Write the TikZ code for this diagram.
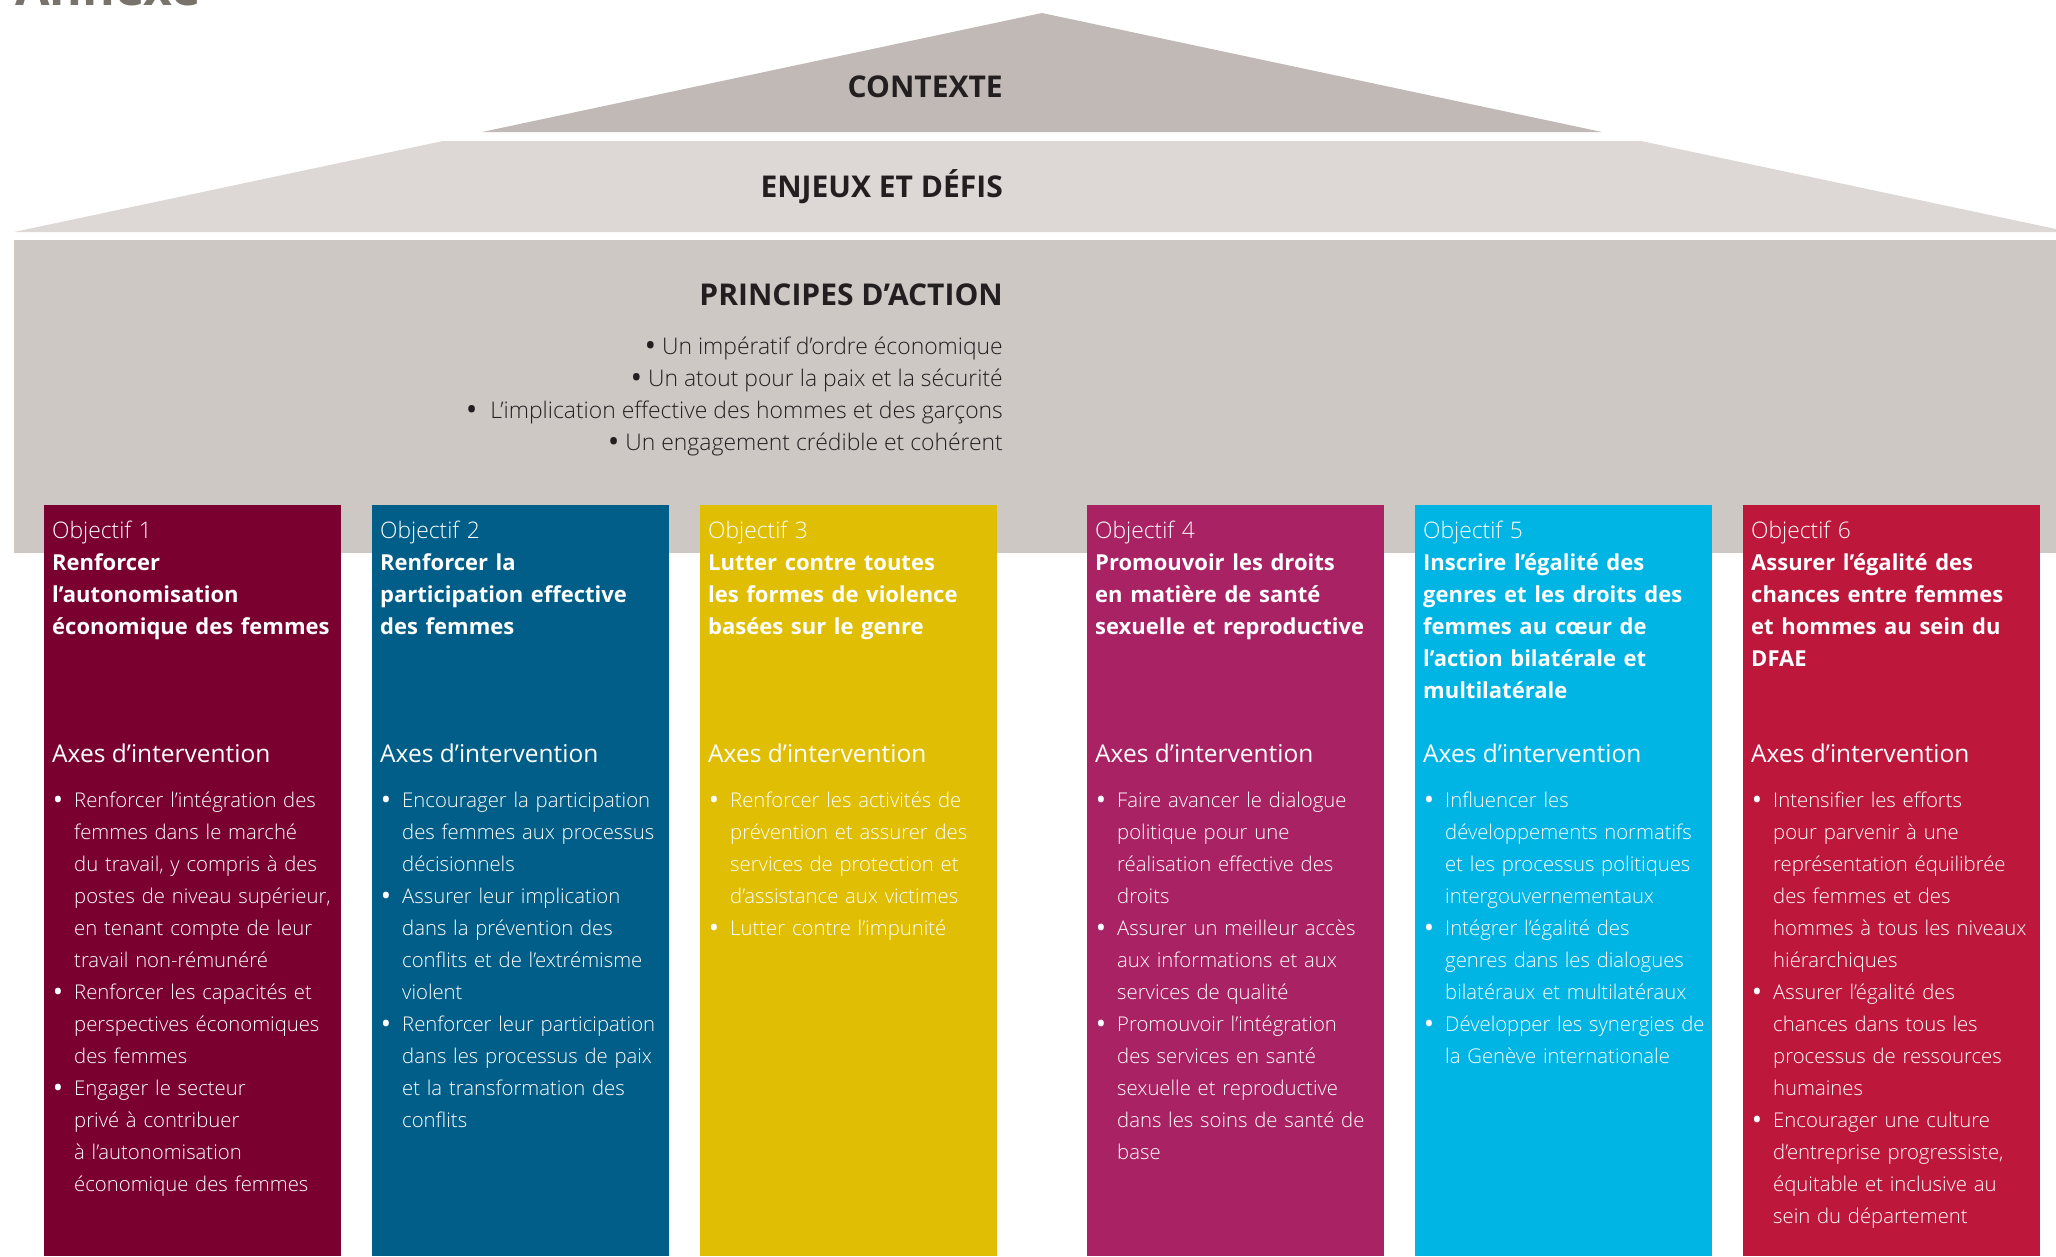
\documentclass[tikz,border=0pt]{standalone}
\usepackage{fontspec}
\setmainfont{Open Sans}
\newfontfamily\lightfont{Open Sans Light}

\definecolor{roofdark}{HTML}{C0B9B5}
\definecolor{rooflight}{HTML}{DDD8D5}
\definecolor{principgrey}{HTML}{CDC8C4}
\definecolor{txtdark}{HTML}{231F20}
\definecolor{annexgrey}{HTML}{77736B}
\definecolor{obj1}{HTML}{7A0030}
\definecolor{obj2}{HTML}{005E88}
\definecolor{obj3}{HTML}{E0BE04}
\definecolor{obj4}{HTML}{A92364}
\definecolor{obj5}{HTML}{00B5E4}
\definecolor{obj6}{HTML}{BD173B}

% round bullet, a bit larger than the font's own
\newcommand{\pt}{\raisebox{-0.11em}{\scalebox{1.35}{\normalfont\textbullet}}}
% bullet hanging in the left margin of a list line
\newcommand{\puce}{\leavevmode\llap{\pt\hspace{11pt}}}
% bold title lines under "Objectif n"
\newcommand{\titre}{\normalfont\bfseries\fontsize{22}{32}\selectfont}

\begin{document}
\begin{tikzpicture}[x=1pt,y=-1pt,
  objbox/.style={anchor=north west,inner sep=0pt,minimum width=297pt,minimum height=751pt},
  objtitle/.style={anchor=base west,inner sep=0pt,text width=300pt,align=left,text=white,font=\lightfont\fontsize{22.8}{32}\selectfont},
  axestitle/.style={anchor=base west,inner sep=0pt,text=white,font=\fontsize{24.5}{30}\selectfont},
  axeslist/.style={anchor=base west,inner sep=0pt,text width=300pt,align=left,text=white,font=\lightfont\fontsize{20.3}{32}\selectfont},
  rooftext/.style={anchor=base east,inner sep=0pt,text=txtdark,font=\bfseries\fontsize{30}{36}\selectfont},
  principe/.style={anchor=base east,inner sep=0pt,text=txtdark,font=\lightfont\fontsize{22.9}{32}\selectfont}]
\useasboundingbox (0,0) rectangle (2056,1256);

\node[anchor=base west,inner sep=0pt,text=annexgrey,font=\bfseries\fontsize{50}{60}\selectfont] (annexe) at (15,5) {Annexe};

% roof and principles band
\fill[roofdark] (482,132) -- (1042,13) -- (1602,132) -- cycle;
\fill[rooflight] (14,232) -- (443,141) -- (1641,141) -- (2070,232) -- cycle;
\fill[principgrey] (14,240) rectangle (2070,553);

\node[rooftext] (contexte) at (1003,97) {CONTEXTE};
\node[rooftext] (enjeux) at (1003,197) {ENJEUX ET DÉFIS};
\node[rooftext] (principes) at (1003,305) {PRINCIPES D’ACTION};
\node[principe] (prc1) at (1003,354) {\pt\ Un impératif d’ordre économique};
\node[principe] (prc2) at (1003,386) {\pt\ Un atout pour la paix et la sécurité};
\node[principe] (prc3) at (1003,418) {\pt\hspace{13pt}L’implication effective des hommes et des garçons};
\node[principe] (prc4) at (1003,450) {\pt\ Un engagement crédible et cohérent};

% objective 1
\node[objbox,fill=obj1] (obj1) at (44,505) {};
\node[objtitle] (obj1_title) at (52,538) {Objectif 1\\\titre Renforcer\\l’autonomisation\\économique des femmes};
\node[axestitle] (obj1_axes) at (52,762) {Axes d’intervention};
\node[axeslist] (obj1_list) at (74,807) {\puce Renforcer l’intégration des\\femmes dans le marché\\du travail, y compris à des\\postes de niveau supérieur,\\en tenant compte de leur\\travail non-rémunéré\\\puce Renforcer les capacités et\\perspectives économiques\\des femmes\\\puce Engager le secteur\\privé à contribuer\\à l’autonomisation\\économique des femmes};

% objective 2
\node[objbox,fill=obj2] (obj2) at (372,505) {};
\node[objtitle] (obj2_title) at (380,538) {Objectif 2\\\titre Renforcer la\\participation effective\\des femmes};
\node[axestitle] (obj2_axes) at (380,762) {Axes d’intervention};
\node[axeslist] (obj2_list) at (402,807) {\puce Encourager la participation\\des femmes aux processus\\décisionnels\\\puce Assurer leur implication\\dans la prévention des\\conflits et de l’extrémisme\\violent\\\puce Renforcer leur participation\\dans les processus de paix\\et la transformation des\\conflits};

% objective 3
\node[objbox,fill=obj3] (obj3) at (700,505) {};
\node[objtitle] (obj3_title) at (708,538) {Objectif 3\\\titre Lutter contre toutes\\les formes de violence\\basées sur le genre};
\node[axestitle] (obj3_axes) at (708,762) {Axes d’intervention};
\node[axeslist] (obj3_list) at (730,807) {\puce Renforcer les activités de\\prévention et assurer des\\services de protection et\\d’assistance aux victimes\\\puce Lutter contre l’impunité};

% objective 4
\node[objbox,fill=obj4] (obj4) at (1087,505) {};
\node[objtitle] (obj4_title) at (1095,538) {Objectif 4\\\titre Promouvoir les droits\\en matière de santé\\sexuelle et reproductive};
\node[axestitle] (obj4_axes) at (1095,762) {Axes d’intervention};
\node[axeslist] (obj4_list) at (1117,807) {\puce Faire avancer le dialogue\\politique pour une\\réalisation effective des\\droits\\\puce Assurer un meilleur accès\\aux informations et aux\\services de qualité\\\puce Promouvoir l’intégration\\des services en santé\\sexuelle et reproductive\\dans les soins de santé de\\base};

% objective 5
\node[objbox,fill=obj5] (obj5) at (1415,505) {};
\node[objtitle] (obj5_title) at (1423,538) {Objectif 5\\\titre Inscrire l’égalité des\\genres et les droits des\\femmes au cœur de\\l’action bilatérale et\\multilatérale};
\node[axestitle] (obj5_axes) at (1423,762) {Axes d’intervention};
\node[axeslist] (obj5_list) at (1445,807) {\puce Influencer les\\développements normatifs\\et les processus politiques\\intergouvernementaux\\\puce Intégrer l’égalité des\\genres dans les dialogues\\bilatéraux et multilatéraux\\\puce Développer les synergies de\\la Genève internationale};

% objective 6
\node[objbox,fill=obj6] (obj6) at (1743,505) {};
\node[objtitle] (obj6_title) at (1751,538) {Objectif 6\\\titre Assurer l’égalité des\\chances entre femmes\\et hommes au sein du\\DFAE};
\node[axestitle] (obj6_axes) at (1751,762) {Axes d’intervention};
\node[axeslist] (obj6_list) at (1773,807) {\puce Intensifier les efforts\\pour parvenir à une\\représentation équilibrée\\des femmes et des\\hommes à tous les niveaux\\hiérarchiques\\\puce Assurer l’égalité des\\chances dans tous les\\processus de ressources\\humaines\\\puce Encourager une culture\\d’entreprise progressiste,\\équitable et inclusive au\\sein du département};
\end{tikzpicture}
\end{document}
